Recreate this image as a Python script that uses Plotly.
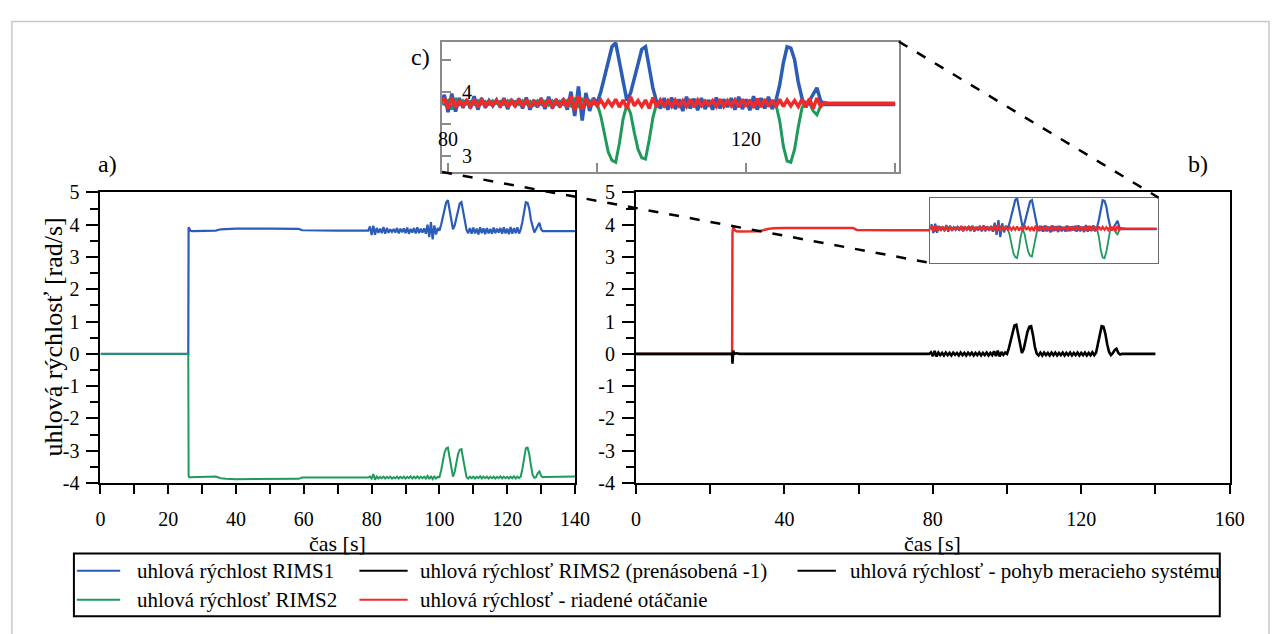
import plotly.graph_objects as go

# ---------------- data ----------------
T_EARLY = [0, 10, 20, 25.9, 26.0, 26.2, 26.5, 27, 28, 30, 33, 34, 35.5, 37, 40, 50, 58.5, 59.5, 65, 70, 78.5]
T_ACTIVE = [
    79.0, 79.5, 80.0, 80.5, 81.0, 81.5, 82.0, 82.5, 83.0, 83.5,
    84.0, 84.5, 85.0, 85.5, 86.0, 86.5, 87.0, 87.5, 88.0, 88.5,
    89.0, 89.5, 90.0, 90.5, 91.0, 91.5, 92.0, 92.5, 93.0, 93.5,
    94.0, 94.5, 95.0, 95.5, 96.0, 96.5, 97.0, 97.5, 98.0, 98.5,
    99.0, 99.5, 100.0, 100.5, 101.0, 101.5, 102.0, 102.5, 103.0, 103.5,
    104.0, 104.5, 105.0, 105.5, 106.0, 106.5, 107.0, 107.5, 108.0, 108.5,
    109.0, 109.5, 110.0, 110.5, 111.0, 111.5, 112.0, 112.5, 113.0, 113.5,
    114.0, 114.5, 115.0, 115.5, 116.0, 116.5, 117.0, 117.5, 118.0, 118.5,
    119.0, 119.5, 120.0, 120.5, 121.0, 121.5, 122.0, 122.5, 123.0, 123.5,
    124.0, 124.5, 125.0, 125.5, 126.0, 126.5, 127.0, 127.5, 128.0, 128.5,
    129.0, 129.5, 130.0, 130.5, 131.0]
T_LATE = [132, 135, 140]
CAS = T_EARLY + T_ACTIVE + T_LATE

RIMS1 = [0, 0, 0, 0, 3.92, 3.86, 3.82, 3.80, 3.80, 3.80, 3.80, 3.82, 3.86, 3.87, 3.88, 3.88, 3.87, 3.83, 3.82, 3.82, 3.82,
    3.82, 3.95, 3.68, 3.97, 3.69, 3.90, 3.75, 3.88, 3.74, 3.93,
    3.72, 3.90, 3.75, 3.86, 3.78, 3.87, 3.76, 3.90, 3.73, 3.88,
    3.77, 3.89, 3.74, 3.91, 3.72, 3.87, 3.76, 3.90, 3.73, 3.92,
    3.74, 3.88, 3.76, 3.89, 3.72, 4.00, 3.62, 4.08, 3.55, 3.98,
    3.70, 3.90, 3.82, 4.00, 4.25, 4.50, 4.70, 4.76, 4.45, 4.10,
    3.86, 3.98, 4.22, 4.46, 4.66, 4.70, 4.40, 4.05, 3.84, 3.74,
    3.90, 3.72, 3.91, 3.73, 3.88, 3.70, 3.92, 3.74, 3.89, 3.71,
    3.90, 3.73, 3.87, 3.72, 3.91, 3.74, 3.88, 3.76, 3.90, 3.72,
    3.92, 3.73, 3.88, 3.71, 3.93, 3.72, 3.90, 3.74, 3.92, 3.73,
    3.86, 4.10, 4.45, 4.70, 4.68, 4.50, 4.15, 3.90, 3.76, 3.86,
    3.95, 4.06, 3.86, 3.80, 3.80,
    3.80, 3.80, 3.80]

RIMS2 = [0, 0, 0, 0, -3.78, -3.82, -3.82, -3.82, -3.82, -3.82, -3.81, -3.80, -3.85, -3.87, -3.88, -3.88, -3.87, -3.83, -3.83, -3.83, -3.83,
    -3.83, -3.80, -3.86, -3.72, -3.90, -3.80, -3.86, -3.81, -3.85, -3.80,
    -3.86, -3.81, -3.85, -3.80, -3.86, -3.82, -3.85, -3.80, -3.86, -3.81,
    -3.85, -3.80, -3.86, -3.81, -3.85, -3.79, -3.86, -3.80, -3.85, -3.79,
    -3.86, -3.80, -3.85, -3.80, -3.86, -3.78, -3.88, -3.78, -3.88, -3.80,
    -3.86, -3.81, -3.82, -3.62, -3.32, -3.06, -2.93, -2.90, -3.20, -3.58,
    -3.80, -3.66, -3.36, -3.10, -2.97, -2.95, -3.25, -3.60, -3.82, -3.86,
    -3.80, -3.85, -3.80, -3.86, -3.81, -3.85, -3.79, -3.86, -3.80, -3.85,
    -3.80, -3.86, -3.81, -3.85, -3.80, -3.86, -3.81, -3.85, -3.79, -3.86,
    -3.80, -3.85, -3.81, -3.86, -3.80, -3.85, -3.79, -3.86, -3.80, -3.85,
    -3.80, -3.55, -3.15, -2.92, -2.90, -3.10, -3.45, -3.75, -3.84, -3.82,
    -3.70, -3.64, -3.78, -3.82, -3.81,
    -3.81, -3.81, -3.80]

RIADENE = [0, 0, 0, 0, 3.75, 3.95, 3.85, 3.80, 3.79, 3.79, 3.80, 3.82, 3.87, 3.89, 3.90, 3.90, 3.90, 3.84, 3.83, 3.83, 3.83,
    3.83, 3.90, 3.74, 3.91, 3.75, 3.87, 3.78, 3.86, 3.77, 3.88,
    3.76, 3.87, 3.78, 3.85, 3.79, 3.86, 3.78, 3.88, 3.76, 3.86,
    3.78, 3.87, 3.77, 3.88, 3.76, 3.85, 3.79, 3.87, 3.77, 3.88,
    3.77, 3.86, 3.78, 3.87, 3.76, 3.93, 3.71, 3.94, 3.72, 3.89,
    3.77, 3.86, 3.78, 3.87, 3.77, 3.86, 3.78, 3.88, 3.76, 3.87,
    3.74, 3.92, 3.78, 3.86, 3.77, 3.87, 3.74, 3.91, 3.76, 3.87,
    3.78, 3.86, 3.77, 3.87, 3.78, 3.86, 3.77, 3.88, 3.76, 3.87,
    3.78, 3.85, 3.79, 3.86, 3.77, 3.88, 3.77, 3.86, 3.78, 3.87,
    3.76, 3.88, 3.77, 3.87, 3.75, 3.89, 3.76, 3.88, 3.77, 3.87,
    3.76, 3.88, 3.77, 3.87, 3.78, 3.86, 3.77, 3.88, 3.76, 3.89,
    3.74, 3.90, 3.77, 3.83, 3.82,
    3.82, 3.82, 3.82]

POHYB = [0, 0, 0, 0, -0.30, 0.10, 0.00, 0.02, 0, 0, 0, 0, 0, 0, 0, 0, 0, 0, 0, 0, 0,
    0.00, 0.05, -0.07, 0.09, -0.08, 0.04, -0.04, 0.03, -0.05, 0.04,
    -0.04, 0.03, -0.05, 0.04, -0.03, 0.03, -0.05, 0.04, -0.04, 0.03,
    -0.05, 0.04, -0.03, 0.04, -0.05, 0.03, -0.04, 0.04, -0.05, 0.03,
    -0.04, 0.04, -0.05, 0.03, -0.04, 0.08, -0.07, 0.10, -0.08, 0.06,
    -0.03, 0.04, 0.00, 0.18, 0.45, 0.72, 0.88, 0.90, 0.62, 0.25,
    0.03, 0.15, 0.42, 0.68, 0.84, 0.86, 0.58, 0.22, 0.01, -0.05,
    0.04, -0.05, 0.04, -0.04, 0.03, -0.05, 0.04, -0.04, 0.04, -0.05,
    0.03, -0.04, 0.04, -0.05, 0.03, -0.04, 0.04, -0.05, 0.03, -0.04,
    0.04, -0.05, 0.03, -0.04, 0.04, -0.05, 0.03, -0.04, 0.05, -0.04,
    0.04, 0.30, 0.65, 0.86, 0.84, 0.62, 0.30, 0.06, -0.04, 0.02,
    0.12, 0.16, 0.03, -0.02, 0.00,
    0, 0, 0]

for s in (RIMS1, RIMS2, RIADENE, POHYB):
    assert len(s) == len(CAS)

Y_TICKS = [-4, -3, -2, -1, 0, 1, 2, 3, 4, 5]
Y_TICKTEXT = ["-4", "-3", "-2", "-1", "0", "1", "2", "3", "4", "5"]
XA_TICKS = [0, 20, 40, 60, 80, 100, 120, 140]
XB_TICKS = [0, 40, 80, 120, 160]
XC_TICKS = [80, 120]
YC_TICKS = [3, 4]

LEGEND_NAMES = ["uhlová rýchlost RIMS1", "uhlová rýchlosť RIMS2 (prenásobená -1)",
                "uhlová rýchlosť - pohyb meracieho systému", "uhlová rýchlosť RIMS2",
                "uhlová rýchlosť - riadené otáčanie"]
Y_TITLE = "uhlová rýchlosť [rad/s]"
X_TITLE = "čas [s]"

# ---------------- style ----------------
W, H = 1285, 634
FONT = "Liberation Serif, 'Times New Roman', Times, serif"
BLUE = "#2b5cb8"
GREEN = "#1f9a5c"
RED = "#f02a2a"
BLACK = "#000000"
GRAY = "#8a8a8a"


def px(x):
    return x / W


def py(y):
    return 1 - y / H


fig = go.Figure()

# panel a
fig.add_trace(go.Scatter(x=CAS, y=RIMS1, mode="lines", line=dict(color=BLUE, width=2.2), xaxis="x", yaxis="y"))
fig.add_trace(go.Scatter(x=CAS, y=RIMS2, mode="lines", line=dict(color=GREEN, width=2), xaxis="x", yaxis="y"))
# panel b
fig.add_trace(go.Scatter(x=CAS, y=RIADENE, mode="lines", line=dict(color=RED, width=2.5), xaxis="x2", yaxis="y2"))
fig.add_trace(go.Scatter(x=CAS, y=POHYB, mode="lines", line=dict(color=BLACK, width=2.6), xaxis="x2", yaxis="y2"))
# inset in panel b (green on reversed base axis, blue/red on overlay)
fig.add_trace(go.Scatter(x=CAS, y=RIMS2, mode="lines", line=dict(color=GREEN, width=1.8), xaxis="x3", yaxis="y3"))
fig.add_trace(go.Scatter(x=CAS, y=RIMS1, mode="lines", line=dict(color=BLUE, width=2.2), xaxis="x3", yaxis="y4"))
fig.add_trace(go.Scatter(x=CAS, y=RIADENE, mode="lines", line=dict(color=RED, width=2.2), xaxis="x3", yaxis="y4"))
# panel c
fig.add_trace(go.Scatter(x=CAS, y=RIMS2, mode="lines", line=dict(color=GREEN, width=3), xaxis="x5", yaxis="y5"))
fig.add_trace(go.Scatter(x=CAS, y=RIMS1, mode="lines", line=dict(color=BLUE, width=3.5), xaxis="x5", yaxis="y6"))
fig.add_trace(go.Scatter(x=CAS, y=RIADENE, mode="lines", line=dict(color=RED, width=3.5), xaxis="x5", yaxis="y6"))

tickfont = dict(family=FONT, size=20, color="black")
main_ax = dict(showgrid=False, zeroline=False, showline=True, mirror=True, linecolor="black", linewidth=2,
               ticks="outside", tickwidth=2, tickcolor="black", tickfont=tickfont)

ya = dict(main_ax, range=[-4, 5], tickmode="array", tickvals=Y_TICKS, ticktext=Y_TICKTEXT, ticklen=12,
          ticklabelstandoff=3,
          minor=dict(dtick=0.5, tick0=0, ticks="outside", ticklen=8, tickwidth=2, tickcolor="black"),
          domain=[py(489), py(188)])

c_ax = dict(showgrid=False, zeroline=False, showline=True, mirror=True, linecolor=GRAY, linewidth=1.5)

fig.update_layout(
    width=W, height=H, margin=dict(l=0, r=0, t=0, b=0),
    paper_bgcolor="white", plot_bgcolor="white", showlegend=False,
    font=dict(family=FONT, color="black"),
    xaxis=dict(main_ax, domain=[px(97), px(579)], range=[0, 140], tickmode="array", tickvals=XA_TICKS,
               ticklen=9, ticklabelstandoff=8, anchor="y",
               minor=dict(dtick=10, tick0=0, ticks="outside", ticklen=9, tickwidth=2, tickcolor="black")),
    yaxis=dict(ya, anchor="x"),
    xaxis2=dict(main_ax, domain=[px(641), px(1244)], range=[0, 160], tickmode="array", tickvals=XB_TICKS,
                ticklen=9, ticklabelstandoff=8, anchor="y2",
                minor=dict(dtick=20, tick0=0, ticks="outside", ticklen=9, tickwidth=2, tickcolor="black")),
    yaxis2=dict(ya, anchor="x2"),
    # inset in b
    xaxis3=dict(showgrid=False, zeroline=False, showline=True, mirror=True, linecolor="#6a6a6a", linewidth=1.3,
                ticks="", showticklabels=False, domain=[px(940), px(1171.7)], range=[79.2, 140.5], anchor="y3"),
    yaxis3=dict(showgrid=False, zeroline=False, showline=True, mirror=True, linecolor="#6a6a6a", linewidth=1.3,
                ticks="", showticklabels=False, domain=[py(261), py(193.3)], range=[-2.75, -4.78], anchor="x3"),
    yaxis4=dict(overlaying="y3", anchor="x3", range=[2.75, 4.78], visible=False),
    # panel c
    xaxis5=dict(c_ax, domain=[px(444), px(908)], range=[79.2, 140.5], anchor="y5",
                tickmode="array", tickvals=XC_TICKS, ticks="inside", ticklen=9,
                tickwidth=1.5, tickcolor=GRAY, ticklabelposition="inside", ticklabelstandoff=14,
                ticklabeloverflow="allow", tickfont=tickfont,
                minor=dict(tickvals=[100, 140], ticks="inside", ticklen=9, tickwidth=1.5, tickcolor=GRAY)),
    yaxis5=dict(c_ax, domain=[py(166.7), py(31.7)], range=[-2.75, -4.78], anchor="x5", ticks="",
                showticklabels=False),
    yaxis6=dict(overlaying="y5", anchor="x5", side="left", range=[2.75, 4.78], showgrid=False, zeroline=False,
                showline=False, tickmode="array", tickvals=YC_TICKS, ticks="inside", ticklen=9,
                tickwidth=1.5, tickcolor=GRAY, ticklabelposition="inside", ticklabelstandoff=12,
                ticklabeloverflow="allow", tickfont=tickfont,
                minor=dict(tickvals=[3.5, 4.5], ticks="inside", ticklen=9, tickwidth=1.5, tickcolor=GRAY)),
)

ann_font = dict(family=FONT, size=21, color="black")
lab_font = dict(family=FONT, size=24, color="black")
xt_font = dict(family=FONT, size=22, color="black")
yt_font = dict(family=FONT, size=26, color="black")
annotations = [
    dict(text="a)", x=px(104), y=py(159), font=lab_font),
    dict(text="b)", x=px(1212), y=py(159), font=lab_font),
    dict(text="c)", x=px(422), y=py(48), font=lab_font),
    dict(text=X_TITLE, x=px(338), y=py(552), font=xt_font),
    dict(text=X_TITLE, x=px(942), y=py(552), font=xt_font),
    dict(text=Y_TITLE, x=px(49), y=py(338), textangle=-90, font=yt_font),
]
for a in annotations:
    fig.add_annotation(xref="paper", yref="paper", showarrow=False,
                       xanchor="center", yanchor="middle", **a)

shapes = []
# outer light frame
shapes.append(dict(type="rect", x0=px(7), x1=px(1284), y0=py(11), y1=py(660), line=dict(color="#c8c8c8", width=1.5)))
# zoom connector dashed lines
dash = dict(color="black", width=2.5, dash="10px,11px")
shapes.append(dict(type="line", x0=px(908), y0=py(31.7), x1=px(1171.7), y1=py(193.3), line=dash))
shapes.append(dict(type="line", x0=px(444), y0=py(166.7), x1=px(940), y1=py(261), line=dash))
# legend box
shapes.append(dict(type="rect", x0=px(70), x1=px(1234), y0=py(562), y1=py(627), line=dict(color="black", width=2)))
leg_items = [
    (LEGEND_NAMES[0], BLUE, 73, 117, 132, 580),
    (LEGEND_NAMES[1], BLACK, 360, 409, 420, 580),
    (LEGEND_NAMES[2], BLACK, 805, 844, 856, 580),
    (LEGEND_NAMES[3], GREEN, 73, 117, 132, 610),
    (LEGEND_NAMES[4], RED, 360, 409, 420, 610),
]
for name, col, lx0, lx1, tx, ly in leg_items:
    shapes.append(dict(type="line", x0=px(lx0), x1=px(lx1), y0=py(ly), y1=py(ly), line=dict(color=col, width=2)))
    fig.add_annotation(xref="paper", yref="paper", showarrow=False, font=ann_font, text=name,
                       x=px(tx), y=py(ly), xanchor="left", yanchor="middle")
for s in shapes:
    s.update(xref="paper", yref="paper")
    fig.add_shape(**s)

fig.write_html("out.html", post_script="document.body.style.margin='0px';")
